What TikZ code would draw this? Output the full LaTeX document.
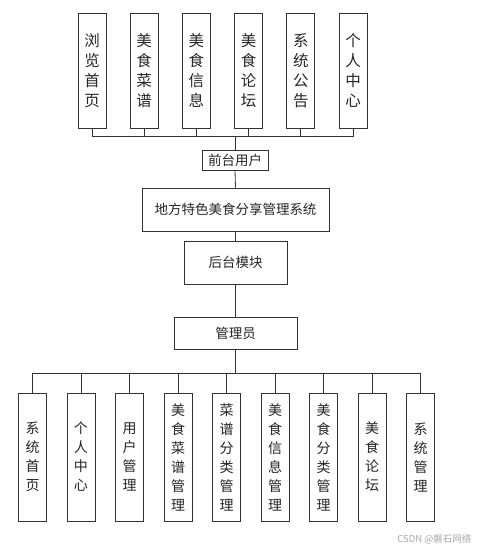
\documentclass[tikz,border=0pt]{standalone}
\usepackage{fontspec}
\setmainfont{Noto Sans CJK SC}

\begin{document}
\begin{tikzpicture}[x=1pt,y=-1pt,draw=black!80,line width=0.8pt]
    \tikzstyle{box}=[draw=black!80,fill=white,inner sep=0pt,align=center,text=black!85]
    \tikzstyle{user item}=[box,minimum width=28pt,minimum height=115pt,font=\fontsize{15.5}{20}\selectfont]
    \tikzstyle{admin item}=[box,minimum width=28pt,minimum height=128pt,font=\fontsize{14}{19}\selectfont]
    \tikzstyle{block}=[box,font=\fontsize{13.5}{16}\selectfont]

    \useasboundingbox (0,0) rectangle (477,550);

    % Draw the front-end items
    \foreach \name / \txt in {1/{浏\\览\\首\\页},2/{美\\食\\菜\\谱},3/{美\\食\\信\\息},
                              4/{美\\食\\论\\坛},5/{系\\统\\公\\告},6/{个\\人\\中\\心}}
        \node[user item] (U-\name) at (92+52.2*\name-52.2,70.5) {\txt};

    % Draw the middle blocks
    \node[block,minimum width=66pt,minimum height=20pt] (front) at (235,160) {前台用户};
    \node[block,minimum width=187pt,minimum height=43pt] (sys) at (235.5,209.5) {地方特色美食分享管理系统};
    \node[block,minimum width=103pt,minimum height=43pt] (back) at (235.5,262.5) {后台模块};
    \node[block,minimum width=123pt,minimum height=32pt] (admin) at (235.5,333) {管理员};

    % Draw the admin items
    \foreach \name / \txt in {1/{系\\统\\首\\页},2/{个\\人\\中\\心},3/{用\\户\\管\\理},
                              4/{美\\食\\菜\\谱\\管\\理},5/{菜\\谱\\分\\类\\管\\理},6/{美\\食\\信\\息\\管\\理},
                              7/{美\\食\\分\\类\\管\\理},8/{美\\食\\论\\坛},9/{系\\统\\管\\理}}
        \node[admin item] (A-\name) at (32.5+48.5*\name-48.5,457) {\txt};

    % Connect the front-end items with the front user block
    \coordinate (ubus) at (235,136);
    \foreach \source in {1,...,6}
        \draw (U-\source.south) |- (ubus);
    \draw (ubus) -- (front.north);

    % Connect the blocks in the middle
    \draw (front.south) -- (sys.north);
    \draw (sys.south) -- (back.north);
    \draw (back.south) -- (admin.north);

    % Connect the admin block with every admin item
    \coordinate (abus) at (235.5,373);
    \draw (admin.south) -- (abus);
    \foreach \dest in {1,...,9}
        \draw (A-\dest.north) |- (abus);

    % Watermark
    \node[text=black!35,font=\fontsize{9.5}{11}\selectfont,anchor=east] (mark) at (475,539) {CSDN @磐石网络};
\end{tikzpicture}
\end{document}
